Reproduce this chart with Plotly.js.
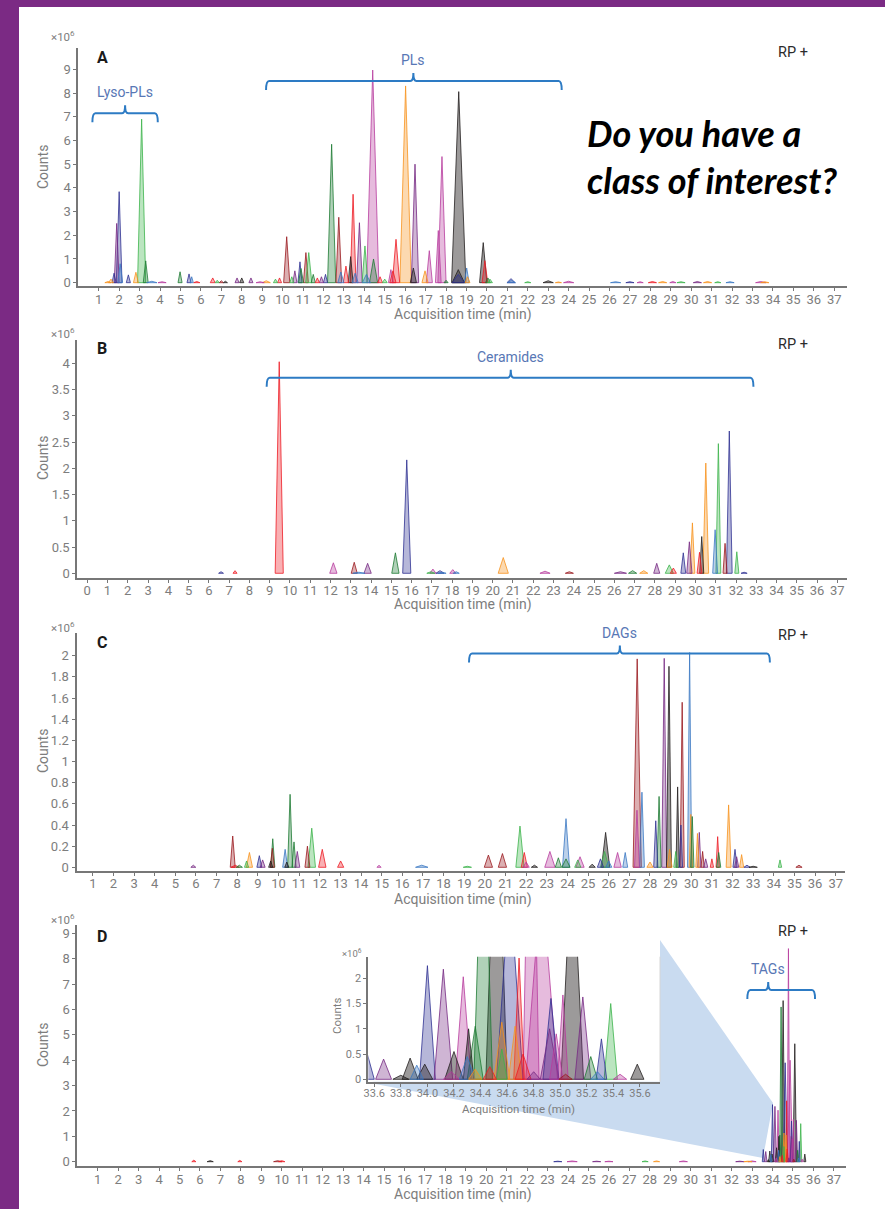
<!DOCTYPE html>
<html><head><meta charset="utf-8">
<script src="https://cdn.plot.ly/plotly-3.0.1.min.js"></script>
<style>html,body{margin:0;padding:0;background:#fff;overflow:hidden}#chart{width:885px;height:1209px}</style>
</head><body><div id="chart"></div>
<script>
// ---------------- DATA ----------------
// Series keys: nv navy, pu purple, mg magenta, gr green, dg dark green, rd red, br brown, or orange, bk black, bl blue
// Panel A – RP+ phospholipids (time min, height x10^6, half base width min, series)
const A_time   = [1.45,1.6,1.75,1.88,2.0,2.05,2.45,2.82,3.1,3.3,3.6,4.1,4.98,5.42,5.55,5.8,6.58,6.8,7.0,7.2,7.77,8.0,8.45,8.9,9.2,9.65,9.85,10.2,10.45,10.6,10.85,10.9,11.14,11.28,11.5,11.7,11.9,12.1,12.4,12.75,12.85,13.1,13.33,13.45,13.55,13.76,14.03,14.1,14.41,14.45,14.77,15.0,15.3,15.4,15.55,16.02,16.4,16.48,16.97,17.18,17.62,17.8,18.0,18.62,18.6,18.6,19.01,19.05,19.82,19.9,20.05,20.15,21.18,21.2,22.0,23.0,23.5,24.0,26.3,27.0,27.5,28.1,28.6,29.1,29.5,30.3,30.8,31.3,31.9,33.4,33.6];
const A_height = [0.05,0.15,0.4,2.5,3.84,0.8,0.33,0.44,6.9,0.92,0.06,0.04,0.46,0.37,0.25,0.05,0.2,0.1,0.08,0.06,0.2,0.2,0.2,0.04,0.08,0.15,0.2,1.94,0.25,0.5,0.88,0.6,1.27,1.27,0.35,0.2,0.25,0.35,5.84,2.76,0.45,0.7,1.1,3.73,0.4,2.53,1.55,0.35,8.97,1.0,0.25,0.15,0.55,0.5,1.83,8.3,0.62,5.0,0.5,1.35,2.2,5.32,0.1,8.06,0.55,0.35,0.62,0.25,1.69,0.93,0.2,0.15,0.17,0.1,0.04,0.08,0.03,0.06,0.04,0.04,0.04,0.05,0.05,0.05,0.04,0.05,0.05,0.04,0.04,0.05,0.04];
const A_width  = [0.15,0.12,0.1,0.12,0.14,0.12,0.1,0.12,0.2,0.12,0.25,0.2,0.1,0.1,0.08,0.15,0.12,0.1,0.1,0.1,0.1,0.1,0.1,0.2,0.2,0.1,0.1,0.15,0.1,0.1,0.1,0.12,0.12,0.15,0.1,0.1,0.1,0.1,0.2,0.14,0.15,0.13,0.12,0.14,0.15,0.14,0.14,0.2,0.3,0.2,0.12,0.12,0.12,0.15,0.18,0.28,0.15,0.18,0.15,0.15,0.14,0.2,0.1,0.35,0.3,0.3,0.12,0.12,0.18,0.14,0.12,0.12,0.2,0.2,0.15,0.25,0.15,0.25,0.25,0.2,0.15,0.2,0.2,0.15,0.2,0.2,0.2,0.15,0.2,0.25,0.2];
const A_series = ['or','or','nv','pu','nv','bl','nv','or','gr','dg','bl','mg','dg','nv','bl','rd','rd','gr','br','bk','pu','bk','pu','mg','or','gr','rd','br','gr','pu','nv','dg','br','gr','dg','rd','pu','nv','dg','br','bl','rd','bk','rd','bl','pu','gr','bl','mg','dg','rd','gr','mg','rd','rd','or','bk','pu','or','mg','mg','mg','dg','bk','bk','nv','bl','or','bk','rd','dg','gr','nv','bl','gr','bk','or','mg','bl','nv','mg','rd','or','mg','gr','pu','or','gr','bl','mg','or'];

// Panel B – ceramides
const B_time   = [6.6,7.29,9.47,12.14,13.17,13.4,13.83,15.2,15.76,16.95,17.05,17.4,17.5,18.03,18.2,20.52,22.58,23.78,26.3,26.9,27.45,28.09,28.71,28.91,29.4,29.7,29.85,30.2,30.31,30.51,30.97,31.13,31.46,31.67,32.04,32.4];
const B_height = [0.03,0.05,4.03,0.2,0.21,0.02,0.19,0.39,2.16,0.03,0.08,0.05,0.02,0.07,0.03,0.3,0.04,0.03,0.03,0.05,0.05,0.19,0.16,0.1,0.39,0.6,0.96,0.4,0.7,2.1,0.83,2.47,0.57,2.71,0.41,0.02];
const B_width  = [0.12,0.1,0.2,0.18,0.15,0.3,0.18,0.18,0.2,0.2,0.15,0.2,0.2,0.15,0.15,0.25,0.25,0.2,0.3,0.2,0.2,0.15,0.2,0.15,0.12,0.13,0.12,0.12,0.1,0.14,0.12,0.12,0.1,0.14,0.1,0.15];
const B_series = ['nv','rd','rd','mg','br','bl','pu','dg','nv','gr','mg','nv','bl','mg','bl','or','mg','br','pu','dg','or','pu','gr','rd','nv','pu','or','rd','bk','or','bl','gr','br','nv','gr','nv'];

// Panel C – diacylglycerols
const C_time   = [5.87,7.78,7.9,8.1,8.45,8.59,9.07,9.23,9.62,9.7,9.72,10.32,10.4,10.56,10.75,10.91,11.4,11.61,12.12,13.01,14.87,16.94,19.15,20.17,20.85,21.7,21.91,22.0,22.4,23.15,23.56,23.93,23.93,24.5,24.61,25.2,25.6,25.8,25.85,26.0,26.43,26.8,27.37,27.38,27.61,28.0,28.28,28.44,28.69,28.92,28.95,29.25,29.34,29.5,29.56,29.92,29.98,30.05,30.3,30.39,30.55,30.7,31.0,31.28,31.33,31.81,32.12,32.2,32.44,32.7,33.0,34.3,35.22];
const C_height = [0.02,0.296,0.02,0.02,0.06,0.14,0.11,0.07,0.06,0.18,0.27,0.17,0.05,0.69,0.24,0.15,0.2,0.37,0.17,0.06,0.02,0.02,0.01,0.116,0.13,0.39,0.14,0.05,0.02,0.15,0.09,0.08,0.46,0.07,0.1,0.03,0.08,0.15,0.33,0.06,0.14,0.14,0.54,1.97,0.71,0.05,0.44,0.67,1.975,1.9,0.17,0.15,0.76,0.4,1.56,2.03,0.5,0.48,0.32,0.33,0.15,0.08,0.08,0.29,0.14,0.59,0.17,0.1,0.12,0.02,0.01,0.07,0.02];
const C_width  = [0.12,0.12,0.2,0.15,0.1,0.15,0.12,0.12,0.1,0.1,0.1,0.12,0.1,0.12,0.1,0.12,0.12,0.18,0.18,0.15,0.1,0.3,0.2,0.2,0.2,0.2,0.15,0.15,0.15,0.25,0.15,0.2,0.17,0.15,0.2,0.15,0.15,0.2,0.2,0.15,0.18,0.12,0.12,0.2,0.12,0.15,0.1,0.1,0.12,0.12,0.12,0.1,0.08,0.08,0.1,0.1,0.08,0.08,0.08,0.08,0.08,0.1,0.08,0.08,0.1,0.12,0.1,0.1,0.1,0.15,0.2,0.08,0.15];
const C_series = ['pu','br','rd','dg','gr','or','nv','pu','bk','br','dg','bl','bk','dg','dg','pu','br','gr','rd','rd','mg','bl','gr','br','br','gr','rd','mg','bk','mg','dg','dg','bl','gr','mg','bk','nv','gr','bk','bl','mg','bl','mg','br','bl','or','nv','dg','pu','bk','or','gr','bk','nv','br','bl','or','dg','or','pu','br','pu','rd','rd','dg','or','nv','pu','or','nv','bk','gr','br'];

// Panel D – triacylglycerol cluster (shown in main panel and in zoomed inset)
const TAG_time   = [33.55,33.67,33.80,33.87,33.92,33.98,34.00,34.12,34.18,34.20,34.27,34.30,34.31,34.36,34.36,34.42,34.47,34.52,34.56,34.56,34.62,34.66,34.69,34.72,34.78,34.80,34.86,34.92,34.93,34.97,35.02,35.04,35.09,35.17,35.23,35.28,35.31,35.38,35.45,35.58];
const TAG_height = [0.48,0.40,0.08,0.42,0.28,0.30,2.25,2.18,0.15,0.55,2.03,0.45,1.00,1.05,0.20,6.10,0.25,6.35,0.60,1.13,3.90,1.05,2.40,0.50,8.40,0.15,4.00,1.00,1.60,0.90,1.67,0.10,4.65,1.63,0.45,0.15,0.80,1.50,0.10,0.30];
const TAG_width  = [0.05,0.06,0.06,0.06,0.05,0.06,0.06,0.07,0.06,0.07,0.06,0.06,0.04,0.06,0.05,0.07,0.05,0.08,0.04,0.06,0.1,0.05,0.04,0.06,0.06,0.05,0.12,0.07,0.06,0.05,0.04,0.05,0.085,0.06,0.05,0.05,0.04,0.05,0.05,0.05];
const TAG_series = ['nv','pu','bk','bk','bl','bk','nv','pu','mg','bk','mg','bl','bk','dg','or','dg','rd','bk','gr','or','nv','or','rd','rd','mg','pu','mg','pu','nv','mg','mg','br','bk','pu','dg','bl','nv','gr','mg','bk'];
// small early peaks in panel D
const D_time   = [5.7,6.5,7.95,9.8,10.0,23.5,24.2,25.4,26.0,27.77,28.33,29.64,32.4,32.8,33.0];
const D_height = [0.06,0.04,0.05,0.04,0.04,0.02,0.03,0.02,0.02,0.03,0.03,0.03,0.02,0.02,0.03];
const D_width  = [0.1,0.15,0.1,0.2,0.15,0.2,0.25,0.2,0.2,0.15,0.15,0.2,0.2,0.2,0.2];
const D_series = ['rd','bk','rd','br','rd','nv','mg','pu','mg','gr','or','mg','pu','or','mg'];

// Tick labels
const xTicks1to37 = [1,2,3,4,5,6,7,8,9,10,11,12,13,14,15,16,17,18,19,20,21,22,23,24,25,26,27,28,29,30,31,32,33,34,35,36,37];
const xTicks0to37 = [0].concat(xTicks1to37);
const yTicksA = [0,1,2,3,4,5,6,7,8,9];
const yTicksB = [0,0.5,1,1.5,2,2.5,3,3.5,4];
const yTicksC = [0,0.2,0.4,0.6,0.8,1,1.2,1.4,1.6,1.8,2];
const yTicksD = [0,1,2,3,4,5,6,7,8,9];
const yTicksInset = [0,0.5,1,1.5,2];
const xTicksInset = [33.6,33.8,34.0,34.2,34.4,34.6,34.8,35.0,35.2,35.4,35.6];
const xTickTextInset = ['33.6','33.8','34.0','34.2','34.4','34.6','34.8','35.0','35.2','35.4','35.6'];

// Lipid class brackets
const bracketLabel = ['Lyso-PLs','PLs','Ceramides','DAGs','TAGs'];
const bracketPanel = ['A','A','B','C','D'];
const bracketStart = [0.69,9.19,8.85,19.23,32.77];
const bracketEnd   = [3.89,23.66,32.86,33.81,36.08];
const bracketMid   = [2.29,16.4,20.89,26.54,33.79];
const bracketLevel = [7.15,8.51,3.726,2.02,6.77];

// ---------------- STYLE ----------------
const COLORS = {nv:'#2e3192',pu:'#762a83',mg:'#b83c9e',gr:'#3cb44b',dg:'#1e7b34',rd:'#ed1c24',br:'#9b1b1f',or:'#f7931e',bk:'#231f20',bl:'#3b78c3'};
const FONT = "Roboto,'Liberation Sans',sans-serif";
const GRAY = '#7d7d7d';
const W = 885, H = 1209;
const px = v => v / W, py = v => 1 - v / H;

function rgba(hex, a){
  const n = parseInt(hex.slice(1),16);
  return 'rgba('+((n>>16)&255)+','+((n>>8)&255)+','+(n&255)+','+a+')';
}
function peaks(t, h, w, s, xa, ya){
  const idx = t.map((_,i)=>i).sort((i,j)=>h[j]-h[i]);
  return idx.map(i => ({
    type:'scatter', mode:'lines', xaxis:xa, yaxis:ya,
    x:[t[i]-w[i], t[i], t[i]+w[i], t[i]-w[i]], y:[0, h[i], 0, 0],
    fill:'toself', fillcolor: rgba(COLORS[s[i]], s[i]==='bk'?0.45:0.35),
    line:{color:COLORS[s[i]], width:0.8}, hoverinfo:'skip', showlegend:false
  }));
}

const traces = [].concat(
  peaks(A_time,A_height,A_width,A_series,'x','y'),
  peaks(B_time,B_height,B_width,B_series,'x2','y2'),
  peaks(C_time,C_height,C_width,C_series,'x3','y3'),
  peaks(D_time,D_height,D_width,D_series,'x4','y4'),
  peaks(TAG_time,TAG_height,TAG_width,TAG_series,'x4','y4'),
  peaks(TAG_time,TAG_height,TAG_width,TAG_series,'x5','y5')
);

function xax(d0,d1,range,ticks,anchor,size){
  return {domain:[px(d0),px(d1)], range:range, anchor:anchor, tickmode:'array', tickvals:ticks,
    showline:true, linecolor:'#777', linewidth:2, ticks:'', ticklen:0,
    minor:{tickmode:'array', tickvals:ticks, ticks:'outside', ticklen:3, tickwidth:1, tickcolor:'#777', showgrid:false},
    showgrid:false, zeroline:false, tickfont:{family:FONT,size:size||13,color:GRAY}, fixedrange:true};
}
function yax(d0,d1,range,ticks,anchor,size){
  return {domain:[py(d1),py(d0)], range:range, anchor:anchor, tickmode:'array', tickvals:ticks,
    showline:true, linecolor:'#777', linewidth:2, ticks:'outside', ticklen:3, tickwidth:1, tickcolor:'#777',
    showgrid:false, zeroline:false, tickfont:{family:FONT,size:size||13,color:GRAY}, fixedrange:true};
}

const axes = {
  A:{x:xax(78.3,846.5,[0,37.6],xTicks1to37,'y'), y:yax(48,286,[-0.14,9.9],yTicksA,'x'), xr:'x', yr:'y', top:48, bot:286},
  B:{x:xax(77.3,846.7,[-0.49,37.46],xTicks0to37,'y2'), y:yax(340,577.7,[-0.084,4.444],yTicksB,'x2'), xr:'x2', yr:'y2', top:340, bot:577.7},
  C:{x:xax(76.5,845,[0.21,37.45],xTicks1to37,'y3'), y:yax(633.3,870.7,[-0.032,2.212],yTicksC,'x3'), xr:'x3', yr:'y3', top:633.3, bot:870.7},
  D:{x:xax(77.3,845.7,[0,37.58],xTicks1to37,'y4'), y:yax(925,1166,[-0.17,9.33],yTicksD,'x4'), xr:'x4', yr:'y4', top:925, bot:1166}
};
const insetX = xax(368.3,660,[33.555,35.751],xTicksInset,'y5',11);
insetX.ticktext = xTickTextInset;
const insetY = yax(956.7,1081.7,[-0.0475,2.427],yTicksInset,'x5',11);

const shapes = [
  {type:'rect',xref:'paper',yref:'paper',x0:0,x1:px(19),y0:0,y1:1,fillcolor:'#7b2a84',line:{width:0},layer:'below'},
  {type:'rect',xref:'paper',yref:'paper',x0:0,x1:1,y0:py(7),y1:1,fillcolor:'#7b2a84',line:{width:0},layer:'below'},
  {type:'path',xref:'paper',yref:'paper',layer:'below',fillcolor:'#c9dbf0',line:{width:0},
   path:'M '+px(660)+','+py(940)+' L '+px(773)+','+py(1103)+' L '+px(763)+','+py(1158)+' L '+px(370)+','+py(1083)+' Z'},
  {type:'rect',xref:'paper',yref:'paper',layer:'below',x0:px(368.3),x1:px(660),y0:py(1081.7),y1:py(940),fillcolor:'#ffffff',line:{width:0}},
  {type:'line',xref:'paper',yref:'paper',layer:'below',x0:px(660),x1:px(660),y0:py(1081.7),y1:py(956.7),line:{color:'#d6d6d6',width:1}}
];
const annotations = [];
function ann(text,x,y,o){
  annotations.push(Object.assign({text:text,x:px(x),y:py(y),xref:'paper',yref:'paper',showarrow:false,
    xanchor:'center',yanchor:'middle',font:{family:FONT,size:14,color:GRAY}},o||{}));
}

bracketLabel.forEach((lab,i)=>{
  const ax = axes[bracketPanel[i]];
  const span = ax.y.range[1]-ax.y.range[0];
  const u = span/(ax.bot-ax.top);
  const ux = (ax.x.range[1]-ax.x.range[0])/((ax.x.domain[1]-ax.x.domain[0])*W);
  const L = bracketLevel[i], x0 = bracketStart[i], x1 = bracketEnd[i], xm = bracketMid[i];
  const hk = 9*u, nt = 8*u, r = 3*ux;
  const p = 'M '+x0+','+(L-hk)+' Q '+x0+','+L+' '+(x0+r)+','+L+' L '+(xm-r)+','+L+' Q '+xm+','+L+' '+xm+','+(L+nt)+
            ' Q '+xm+','+L+' '+(xm+r)+','+L+' L '+(x1-r)+','+L+' Q '+x1+','+L+' '+x1+','+(L-hk);
  shapes.push({type:'path',xref:ax.xr,yref:ax.yr,path:p,line:{color:'#2d7bc4',width:2},layer:'above'});
  annotations.push({text:lab,x:xm,y:L,xref:ax.xr,yref:ax.yr,yshift:21,showarrow:false,xanchor:'center',yanchor:'middle',
    font:{family:FONT,size:14,color:'#5877b5'}});
});

const panelText = [
  {L:'A', exp:37, let:57, rp:53, cnt:167, xt:314},
  {L:'B', exp:333, let:348, rp:344, cnt:458, xt:605},
  {L:'C', exp:627, let:642, rp:635, cnt:751, xt:899},
  {L:'D', exp:919, let:936, rp:931, cnt:1045, xt:1194}
];
panelText.forEach(p=>{
  ann('×10<sup>6</sup>',63,p.exp,{font:{family:FONT,size:11.5,color:GRAY}});
  ann('<b>'+p.L+'</b>',102,p.let,{font:{family:FONT,size:16,color:'#1a1a1a'}});
  ann('RP +',793,p.rp,{font:{family:FONT,size:14.5,color:'#2b2b2b'}});
  ann('Counts',43,p.cnt,{textangle:-90});
  ann('Acquisition time (min)',463,p.xt);
});
ann('×10<sup>6</sup>',351.7,953,{font:{family:FONT,size:9.5,color:GRAY}});
ann('Counts',337,1016,{textangle:-90,font:{family:FONT,size:11.5,color:GRAY}});
ann('Acquisition time (min)',518,1109,{font:{family:FONT,size:11.5,color:GRAY}});
ann('<b><i>Do you have a<br>class of interest?</i></b>',585,156,{xanchor:'left',align:'left',
  font:{family:"Lato,'Open Sans','Noto Sans',sans-serif",size:36,color:'#000000'}});

const layout = {
  width:W, height:H, margin:{l:0,r:0,t:0,b:0}, paper_bgcolor:'#ffffff', plot_bgcolor:'rgba(0,0,0,0)',
  showlegend:false, font:{family:FONT},
  xaxis:axes.A.x, yaxis:axes.A.y, xaxis2:axes.B.x, yaxis2:axes.B.y,
  xaxis3:axes.C.x, yaxis3:axes.C.y, xaxis4:axes.D.x, yaxis4:axes.D.y,
  xaxis5:insetX, yaxis5:insetY,
  shapes:shapes, annotations:annotations
};
Plotly.newPlot('chart', traces, layout, {displayModeBar:false, staticPlot:true});
</script></body></html>
